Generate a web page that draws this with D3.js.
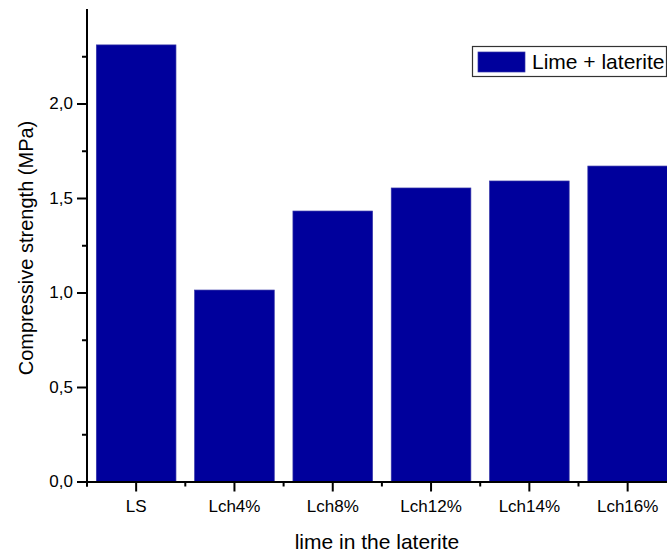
<!DOCTYPE html>
<html>
<head>
<meta charset="utf-8">
<script src="https://cdn.jsdelivr.net/npm/d3@7"></script>
<style>
  html, body { margin: 0; padding: 0; background: #fff; }
  svg { display: block; font-family: Arial, "Liberation Sans", sans-serif; }
</style>
</head>
<body>
<svg id="chart" width="667" height="554"></svg>
<script>
// Compressive strength per mix
const categories = ["LS", "Lch4%", "Lch8%", "Lch12%", "Lch14%", "Lch16%"];
const strength = [2.31, 1.013, 1.431, 1.553, 1.590, 1.669];
const seriesName = "Lime + laterite";
const yMajorTicks = [0, 0.5, 1.0, 1.5, 2.0];
const yMinorTicks = [0.25, 0.75, 1.25, 1.75, 2.25];

const svg = d3.select("#chart");
const barColor = "#00009c";

const plotLeft = 87, plotBottom = 481.5, plotTop = 9, step = 98.3;
const plotRight = plotLeft + step * categories.length;

const x = d3.scaleBand()
  .domain(categories)
  .range([plotLeft, plotRight])
  .paddingInner(0.19)
  .paddingOuter(0.095);

const y = d3.scaleLinear().domain([0, 2.5]).range([plotBottom, plotTop]);

const fmt = d3.formatLocale({decimal: ",", thousands: ".", grouping: [3], currency: ["", ""]}).format(".1f");

// Bars
svg.append("g").selectAll("rect")
  .data(categories.map((c, i) => ({c, v: strength[i]})))
  .join("rect")
  .attr("x", d => x(d.c))
  .attr("y", d => y(d.v))
  .attr("width", x.bandwidth())
  .attr("height", d => y(0) - y(d.v))
  .attr("fill", barColor)
  .attr("stroke", "#3434a8")
  .attr("stroke-width", 0.7);

// Y axis: major ticks with labels, minor ticks without
const yAxis = svg.append("g").attr("transform", `translate(${plotLeft},0)`)
  .call(d3.axisLeft(y).tickValues(yMajorTicks).tickFormat(fmt).tickSize(10).tickSizeOuter(0).tickPadding(4));
svg.append("g").attr("transform", `translate(${plotLeft},0)`)
  .call(d3.axisLeft(y).tickValues(yMinorTicks).tickFormat("").tickSize(5).tickSizeOuter(0))
  .call(g => g.select(".domain").remove());

// X axis: major ticks at category centres, minor ticks at band edges
const xAxis = svg.append("g").attr("transform", `translate(0,${plotBottom})`)
  .call(d3.axisBottom(x).tickSize(10).tickSizeOuter(0).tickPadding(8));
const edges = d3.range(categories.length + 1).map(i => plotLeft + i * step);
svg.append("g").selectAll("line")
  .data(edges)
  .join("line")
  .attr("x1", d => d).attr("x2", d => d)
  .attr("y1", plotBottom).attr("y2", plotBottom + 5)
  .attr("stroke", "#000");

// Extend the y axis line to the top of the plot
yAxis.select(".domain").attr("d", `M0,${plotBottom + 5}V${plotTop}`);

[yAxis, xAxis].forEach(g => {
  g.select(".domain").attr("stroke", "#000").attr("stroke-width", 2);
  g.selectAll(".tick line").attr("stroke", "#000");
  g.selectAll(".tick text").attr("fill", "#000").style("font-size", "17px")
    .style("font-family", "Arial, 'Liberation Sans', sans-serif");
});
svg.selectAll("g line").attr("stroke-width", 2);

// Axis titles
svg.append("text")
  .attr("x", (plotLeft + 667) / 2)
  .attr("y", 549)
  .attr("text-anchor", "middle")
  .style("font-size", "21px")
  .text("lime in the laterite");

svg.append("text")
  .attr("transform", "translate(33,248) rotate(-90)")
  .attr("text-anchor", "middle")
  .style("font-size", "20px")
  .text("Compressive strength (MPa)");

// Legend
const legend = svg.append("g");
legend.append("rect")
  .attr("x", 472.5).attr("y", 46.5)
  .attr("width", 194).attr("height", 30)
  .attr("fill", "#fff").attr("stroke", "#333").attr("stroke-width", 1.2);
legend.append("rect")
  .attr("x", 478).attr("y", 52)
  .attr("width", 47).attr("height", 20)
  .attr("fill", barColor).attr("stroke", "#3434a8").attr("stroke-width", 0.7);
legend.append("text")
  .attr("x", 532).attr("y", 69)
  .style("font-size", "21px")
  .text(seriesName);
</script>
</body>
</html>
